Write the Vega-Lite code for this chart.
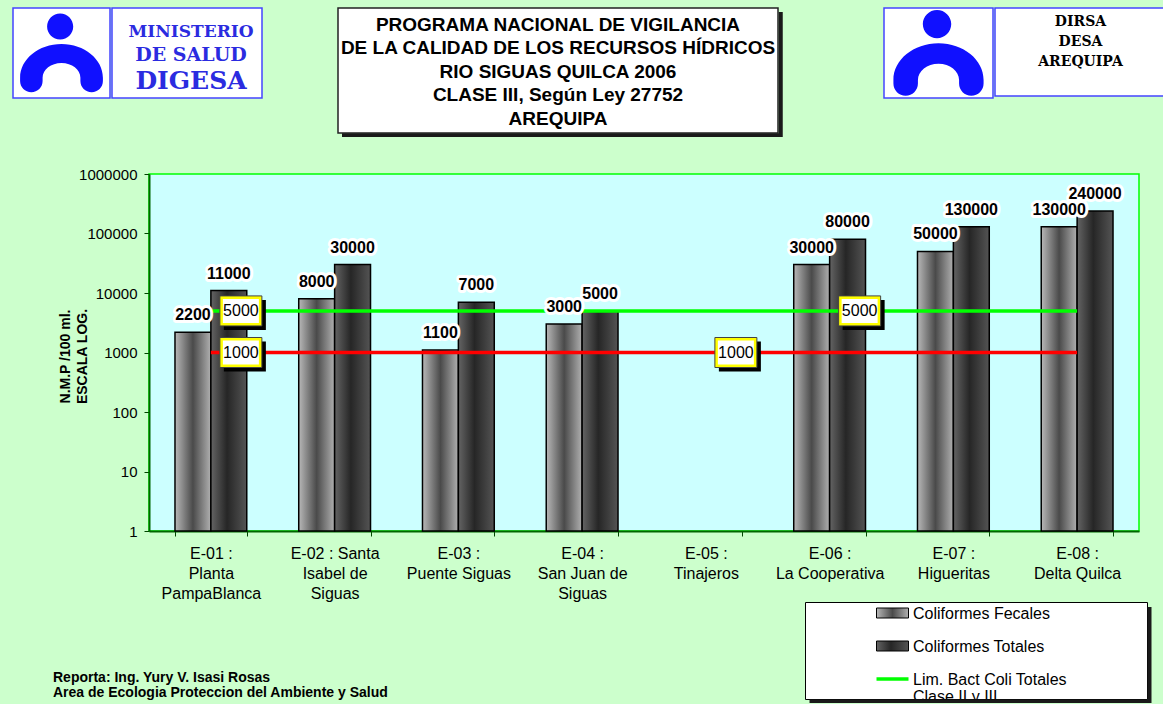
{
  "$schema": "https://vega.github.io/schema/vega-lite/v6.json",
  "background": "#CCFFCC",
  "padding": {"left": 12, "top": 7, "right": 0, "bottom": 0},
  "config": {"view": {"stroke": null}, "font": "Liberation Sans"},
  "datasets": {
    "bars": [
      {"station": "E-01 :|Planta|PampaBlanca", "series": "Coliformes Fecales", "value": 2200},
      {"station": "E-01 :|Planta|PampaBlanca", "series": "Coliformes Totales", "value": 11000},
      {"station": "E-02 : Santa|Isabel de|Siguas", "series": "Coliformes Fecales", "value": 8000},
      {"station": "E-02 : Santa|Isabel de|Siguas", "series": "Coliformes Totales", "value": 30000},
      {"station": "E-03 :|Puente Siguas", "series": "Coliformes Fecales", "value": 1100},
      {"station": "E-03 :|Puente Siguas", "series": "Coliformes Totales", "value": 7000},
      {"station": "E-04 :|San Juan de|Siguas", "series": "Coliformes Fecales", "value": 3000},
      {"station": "E-04 :|San Juan de|Siguas", "series": "Coliformes Totales", "value": 5000},
      {"station": "E-06 :|La Cooperativa", "series": "Coliformes Fecales", "value": 30000},
      {"station": "E-06 :|La Cooperativa", "series": "Coliformes Totales", "value": 80000},
      {"station": "E-07 :|Higueritas", "series": "Coliformes Fecales", "value": 50000},
      {"station": "E-07 :|Higueritas", "series": "Coliformes Totales", "value": 130000},
      {"station": "E-08 :|Delta Quilca", "series": "Coliformes Fecales", "value": 130000},
      {"station": "E-08 :|Delta Quilca", "series": "Coliformes Totales", "value": 240000}
    ],
    "limits": [
      {"name": "Lim. Bact Coli Totales Clase II y III", "value": 5000},
      {"name": "Lim. Bact Coli Fecales Clase II y III", "value": 1000}
    ],
    "limitLabels": [
      {"station": "E-01 :|Planta|PampaBlanca", "value": 5000},
      {"station": "E-06 :|La Cooperativa", "value": 5000},
      {"station": "E-01 :|Planta|PampaBlanca", "value": 1000},
      {"station": "E-05 :|Tinajeros", "value": 1000}
    ],
    "legendItems": [
      {"item": "Coliformes Fecales"},
      {"item": "Coliformes Totales"},
      {"item": "Lim. Bact Coli Totales\nClase II y III"}
    ]
  },
  "vconcat": [
    {
      "hconcat": [
        {
          "hconcat": [
            {
              "width": 97, "height": 90,
              "view": {"fill": "white", "stroke": "#4444FF", "strokeWidth": 1.5},
              "data": {"values": [{"logo": "MINSA"}]},
              "mark": {"type": "point", "filled": true, "opacity": 1, "color": "#1010FF", "size": 8100,
                "shape": "M-0.92,0.55 A0.92,0.75 0 0 1 0.92,0.55 L0.92,0.62 A0.25,0.25 0 0 1 0.42,0.62 L0.42,0.55 A0.42,0.33 0 0 0 -0.42,0.55 L-0.42,0.62 A0.25,0.25 0 0 1 -0.92,0.62 Z M0.26,-0.59 A0.29,0.29 0 1 1 -0.32,-0.59 A0.29,0.29 0 1 1 0.26,-0.59 Z"}
            },
            {
              "width": 150, "height": 90,
              "view": {"fill": "white", "stroke": "#4444FF", "strokeWidth": 1.5},
              "layer": [
                {"data": {"values": [{"t": "MINISTERIO"}]}, "mark": {"type": "text", "font": "DejaVu Serif", "fontWeight": "bold", "fontSize": 17, "color": "#2B2BE0", "baseline": "middle", "dx": 4, "dy": -21}, "encoding": {"text": {"field": "t"}}},
                {"data": {"values": [{"t": "DE SALUD"}]}, "mark": {"type": "text", "font": "DejaVu Serif", "fontWeight": "bold", "fontSize": 19, "color": "#2B2BE0", "baseline": "middle", "dx": 4, "dy": 1.5}, "encoding": {"text": {"field": "t"}}},
                {"data": {"values": [{"t": "DIGESA"}]}, "mark": {"type": "text", "font": "DejaVu Serif", "fontWeight": "bold", "fontSize": 25, "color": "#2B2BE0", "baseline": "middle", "dx": 4, "dy": 28}, "encoding": {"text": {"field": "t"}}}
              ]
            }
          ],
          "spacing": 0
        },
        {
          "hconcat": [
            {
              "width": 440, "height": 125,
              "view": {"fill": "white", "stroke": "#222222", "strokeWidth": 1.5},
              "data": {"values": [{"t": "PROGRAMA NACIONAL DE VIGILANCIA\nDE LA CALIDAD DE LOS RECURSOS HÍDRICOS\nRIO SIGUAS QUILCA 2006\nCLASE III,  Según Ley 27752\nAREQUIPA"}]},
              "layer": [
                {
                  "mark": {"type": "point", "filled": true, "opacity": 1, "color": "#1A1A1A", "size": 4, "shape": "M220.75,-58.5H224.75V66.5H-216V62.75H220.75Z"}
                },
                {
                  "mark": {"type": "text", "lineBreak": "\n", "fontSize": 19, "fontWeight": "bold", "align": "center", "baseline": "top", "lineHeight": 23.5, "dy": -54.7, "color": "black"},
                  "encoding": {"text": {"field": "t"}}
                }
              ]
            },
            {
              "hconcat": [
                {
                  "width": 109, "height": 90,
                  "view": {"fill": "white", "stroke": "#4444FF", "strokeWidth": 1.5},
                  "data": {"values": [{"logo": "DIRSA"}]},
                  "mark": {"type": "point", "filled": true, "opacity": 1, "color": "#1010FF", "size": 9604,
                    "shape": "M-0.92,0.55 A0.92,0.75 0 0 1 0.92,0.55 L0.92,0.62 A0.25,0.25 0 0 1 0.42,0.62 L0.42,0.55 A0.42,0.33 0 0 0 -0.42,0.55 L-0.42,0.62 A0.25,0.25 0 0 1 -0.92,0.62 Z M0.26,-0.59 A0.29,0.29 0 1 1 -0.32,-0.59 A0.29,0.29 0 1 1 0.26,-0.59 Z"}
                },
                {
                  "width": 169, "height": 88,
                  "view": {"fill": "white", "stroke": "#4444FF", "strokeWidth": 1.5},
                  "data": {"values": [{"t": "DIRSA\nDESA\nAREQUIPA"}]},
                  "mark": {"type": "text", "lineBreak": "\n", "font": "DejaVu Serif", "fontWeight": "bold", "fontSize": 14, "align": "center", "baseline": "top", "lineHeight": 20, "dx": 1, "dy": -37, "color": "black"},
                  "encoding": {"text": {"field": "t"}}
                }
              ],
              "spacing": 0
            }
          ],
          "spacing": 99
        }
      ],
      "spacing": 74
    },
    {
      "vconcat": [
        {
          "hconcat": [
            {
              "width": 44, "height": 10,
              "data": {"values": [{"s": ""}]},
              "mark": {"type": "text"},
              "encoding": {"text": {"field": "s"}}
            },
            {
              "width": 990, "height": 357,
              "view": {"fill": "#CCFFFF", "stroke": "#00FF00", "strokeWidth": 1.5},
              "data": {"name": "bars"},
              "encoding": {
                "x": {"field": "station", "type": "nominal", "sort": null,
                  "scale": {"domain": ["E-01 :|Planta|PampaBlanca", "E-02 : Santa|Isabel de|Siguas", "E-03 :|Puente Siguas", "E-04 :|San Juan de|Siguas", "E-05 :|Tinajeros", "E-06 :|La Cooperativa", "E-07 :|Higueritas", "E-08 :|Delta Quilca"], "paddingInner": 0.42, "paddingOuter": 0.21},
                  "axis": {"title": null, "labelExpr": "isString(datum.value) ? split(datum.value, '|') : ''", "labelFontSize": 16, "labelLineHeight": 20, "labelAngle": 0, "labelPadding": 9, "labelColor": "black", "labelOverlap": false, "labelLimit": 300, "tickBand": "extent", "tickSize": 5, "tickColor": "#004400", "domainColor": "#006600", "domainWidth": 2}},
                "y": {"field": "value", "type": "quantitative",
                  "scale": {"type": "log", "domain": [1, 1000000], "nice": false},
                  "axis": {"values": [1, 10, 100, 1000, 10000, 100000, 1000000], "format": "d", "labelFontSize": 15, "labelPadding": 7, "labelColor": "black", "labelFlush": false, "tickSize": 5, "tickColor": "#004400", "domainColor": "#006600", "domainWidth": 2, "grid": false,
                    "title": ["N.M.P /100 ml.", "ESCALA LOG."], "titleFontSize": 14, "titleFontWeight": "bold", "titleLineHeight": 17, "titleColor": "black", "titleAngle": 270, "titleBaseline": "top", "titleAlign": "center", "titleX": -91, "titleY": 182}}
              },
              "layer": [
                {
                  "transform": [{"filter": "datum.series == 'Coliformes Fecales'"}],
                  "mark": {"type": "bar", "stroke": "black", "strokeWidth": 1.5,
                    "fill": {"gradient": "linear", "x1": 0, "y1": 0, "x2": 1, "y2": 0, "stops": [{"offset": 0, "color": "#B8B8B8"}, {"offset": 0.5, "color": "#4A4A4A"}, {"offset": 1, "color": "#B0B0B0"}]}},
                  "encoding": {"y2": {"datum": 1}, "xOffset": {"field": "series", "type": "nominal", "scale": {"domain": ["Coliformes Fecales", "Coliformes Totales"], "paddingInner": 0, "paddingOuter": 0}}}
                },
                {
                  "transform": [{"filter": "datum.series == 'Coliformes Totales'"}],
                  "mark": {"type": "bar", "stroke": "black", "strokeWidth": 1.5,
                    "fill": {"gradient": "linear", "x1": 0, "y1": 0, "x2": 1, "y2": 0, "stops": [{"offset": 0, "color": "#646464"}, {"offset": 0.45, "color": "#262626"}, {"offset": 1, "color": "#545454"}]}},
                  "encoding": {"y2": {"datum": 1}, "xOffset": {"field": "series", "type": "nominal"}}
                },
                {
                  "data": {"name": "limits"},
                  "mark": {"type": "rule", "strokeWidth": 3.5},
                  "encoding": {
                    "x": {"datum": "E-01 :|Planta|PampaBlanca", "type": "nominal"},
                    "x2": {"datum": "E-08 :|Delta Quilca"},
                    "color": {"field": "name", "type": "nominal", "scale": {"domain": ["Lim. Bact Coli Totales Clase II y III", "Lim. Bact Coli Fecales Clase II y III"], "range": ["#00FF00", "#FF0000"]}, "legend": null}
                  }
                },
                {
                  "mark": {"type": "text", "fontSize": 16, "fontWeight": "bold", "baseline": "middle", "dy": -17, "fill": "white", "stroke": "white", "strokeWidth": 6, "strokeJoin": "round"},
                  "encoding": {"xOffset": {"field": "series", "type": "nominal"}, "text": {"field": "value", "type": "quantitative", "format": "d"}}
                },
                {
                  "mark": {"type": "text", "fontSize": 16, "fontWeight": "bold", "baseline": "middle", "dy": -17, "color": "black"},
                  "encoding": {"xOffset": {"field": "series", "type": "nominal"}, "text": {"field": "value", "type": "quantitative", "format": "d"}}
                },
                {
                  "data": {"name": "limitLabels"},
                  "mark": {"type": "point", "shape": "M0.867,-0.733H3.667V1.267H0.867Z", "size": 900, "filled": true, "opacity": 1, "color": "black"}
                },
                {
                  "data": {"name": "limitLabels"},
                  "mark": {"type": "point", "shape": "M0.6,-1H3.4V1H0.6Z", "size": 900, "filled": true, "opacity": 1, "fill": "#FFFF00", "stroke": "#444444", "strokeWidth": 1}
                },
                {
                  "data": {"name": "limitLabels"},
                  "mark": {"type": "point", "shape": "M1,-1H4V1H1Z", "size": 576, "filled": true, "opacity": 1, "color": "white"}
                },
                {
                  "data": {"name": "limitLabels"},
                  "mark": {"type": "text", "fontSize": 16, "baseline": "middle", "align": "center", "color": "black", "dx": 30},
                  "encoding": {"text": {"field": "value", "type": "quantitative", "format": "d"}}
                }
              ]
            }
          ],
          "spacing": 0
        },
        {
          "hconcat": [
            {
              "width": 791, "height": 97,
              "data": {"values": [{"t": "Reporta: Ing. Yury V. Isasi Rosas\nArea de Ecologia Proteccion del Ambiente y Salud"}]},
              "mark": {"type": "text", "lineBreak": "\n", "align": "left", "baseline": "top", "fontSize": 14, "fontWeight": "bold", "lineHeight": 15, "dx": -355.5, "dy": 20.5, "color": "black"},
              "encoding": {"text": {"field": "t"}}
            },
            {
              "width": 342, "height": 97,
              "view": {"fill": "white", "stroke": "black", "strokeWidth": 1},
              "data": {"name": "legendItems"},
              "layer": [
                {
                  "transform": [{"filter": "datum.item == 'Coliformes Fecales'"}],
                  "mark": {"type": "point", "filled": true, "opacity": 1, "color": "#1A1A1A", "size": 4, "shape": "M171.5,-43.5H175.5V52.5H-166.5V49H171.5Z"}
                },
                {
                  "transform": [{"filter": "datum.item == 'Coliformes Fecales'"}],
                  "mark": {"type": "point", "shape": "M-9.95,-0.5H-6.75V0.5H-9.95Z", "size": 400, "filled": true, "opacity": 1, "stroke": "black", "strokeWidth": 1,
                    "fill": {"gradient": "linear", "x1": 0, "y1": 0, "x2": 1, "y2": 0, "stops": [{"offset": 0, "color": "#B8B8B8"}, {"offset": 0.5, "color": "#4A4A4A"}, {"offset": 1, "color": "#B0B0B0"}]}},
                  "encoding": {"y": {"field": "item", "type": "nominal", "sort": null, "scale": {"type": "point", "range": [11, 77], "padding": 0, "domain": ["Coliformes Fecales", "Coliformes Totales", "Lim. Bact Coli Totales\nClase II y III"]}, "axis": null}}
                },
                {
                  "transform": [{"filter": "datum.item == 'Coliformes Totales'"}],
                  "mark": {"type": "point", "shape": "M-9.95,-0.5H-6.75V0.5H-9.95Z", "size": 400, "filled": true, "opacity": 1, "stroke": "black", "strokeWidth": 1,
                    "fill": {"gradient": "linear", "x1": 0, "y1": 0, "x2": 1, "y2": 0, "stops": [{"offset": 0, "color": "#646464"}, {"offset": 0.45, "color": "#262626"}, {"offset": 1, "color": "#545454"}]}},
                  "encoding": {"y": {"field": "item", "type": "nominal", "sort": null}}
                },
                {
                  "transform": [{"filter": "indexof(datum.item, 'Lim.') == 0"}],
                  "mark": {"type": "point", "shape": "M-9.95,0H-6.75", "size": 400, "filled": false, "opacity": 1, "stroke": "#00FF00", "strokeWidth": 3.5},
                  "encoding": {"y": {"field": "item", "type": "nominal", "sort": null}}
                },
                {
                  "mark": {"type": "text", "lineBreak": "\n", "align": "left", "baseline": "top", "fontSize": 16, "lineHeight": 17, "dx": -63, "dy": -7, "color": "black", "clip": true},
                  "encoding": {"y": {"field": "item", "type": "nominal", "sort": null}, "text": {"field": "item"}}
                }
              ]
            }
          ],
          "spacing": 0
        }
      ],
      "spacing": -5
    }
  ],
  "spacing": 28
}
